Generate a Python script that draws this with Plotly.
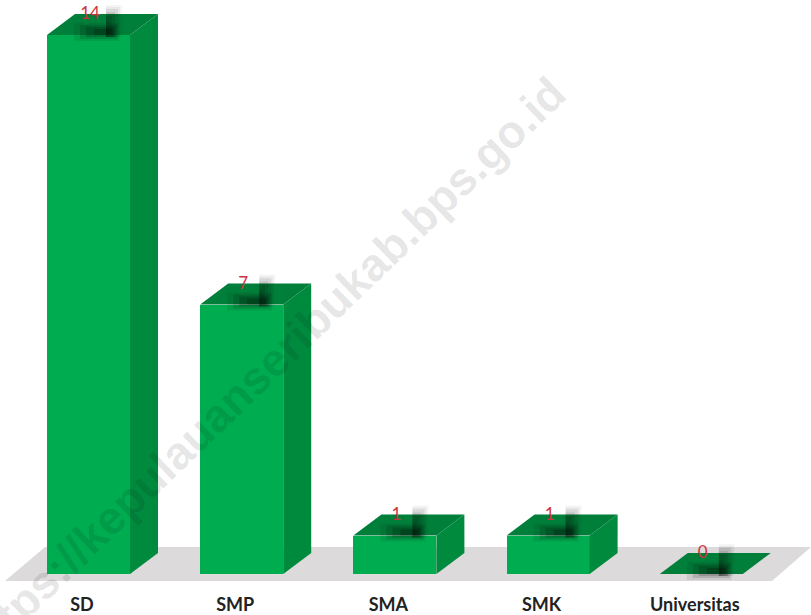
import plotly.graph_objects as go

categories = ["SD", "SMP", "SMA", "SMK", "Universitas"]
values = [14, 7, 1, 1, 0]

W, H = 811, 615
M_B = 23
PITCH = 153.2
UNIT = 38.5
X0_PX = 88.5
BASE_PX = 574
BAR_PX = 83
DX_PX, DY_PX = 28, 21

bw = BAR_PX / PITCH
dx = DX_PX / PITCH
dy = DY_PX / UNIT
xr = [-X0_PX / PITCH, (W - X0_PX) / PITCH]
yr = [-(H - M_B - BASE_PX) / UNIT, BASE_PX / UNIT]


def px(x):
    return (x - X0_PX) / PITCH


def py(y):
    return (BASE_PX - y) / UNIT


def smudge(fig, x0, x1, y0, y1, alpha):
    fig.add_trace(go.Scatter(x=[x0, x1, x1, x0, x0], y=[y0, y0, y1, y1, y0], mode="lines", fill="toself",
                             fillcolor=f"rgba(0,0,0,{alpha})", line=dict(width=0), hoverinfo="skip"))


fig = go.Figure()

fig.add_trace(go.Bar(x=list(range(5)), y=values, width=bw, marker=dict(color="#00ac50", line=dict(width=0)),
                     hoverinfo="skip"))

for i, v in enumerate(values):
    l, r = i - bw / 2, i + bw / 2
    if v > 0:
        fig.add_trace(go.Scatter(x=[r, r + dx, r + dx, r, r], y=[0, dy, v + dy, v, 0], mode="lines", fill="toself",
                                 fillcolor="#008a3e", line=dict(width=0), hoverinfo="skip"))
    fig.add_trace(go.Scatter(x=[l, l + dx, r + dx, r, l], y=[v, v + dy, v + dy, v, v], mode="lines", fill="toself",
                             fillcolor="#007f3a", line=dict(width=0), hoverinfo="skip"))
    # soft shadow behind each value label: an upright strip and a low band
    s = i + 17.5 / PITCH
    for k, top, a in zip([16, 14, 12, 9, 6, 3], [30, 28, 26, 23, 19, 14],
                         [0.04, 0.05, 0.07, 0.09, 0.10, 0.10]):
        smudge(fig, s, s + k / PITCH, v - 2 / UNIT, v + top / UNIT, a)
    for h, left, a in zip([9, 7, 5, 3], [-32, -26, -20, -12], [0.08, 0.12, 0.16, 0.20]):
        smudge(fig, s + left / PITCH, s + (h + 4) / PITCH, v - (h - 3) / UNIT, v + (h + 3) / UNIT, a)

fig.add_trace(go.Scatter(x=[i + 1.5 / PITCH for i in range(5)], y=[v + 20 / UNIT for v in values], mode="text",
                         text=[str(v) for v in values], textposition="middle center",
                         textfont=dict(family="Lato", size=17, color="#cc343c"), hoverinfo="skip"))

fig.add_shape(type="path", layer="below", xref="x", yref="y", line=dict(width=0), fillcolor="#dcdada",
              path=f"M {px(5)} {py(581)} L {px(45)} {py(547)} L {px(811)} {py(547)} L {px(772)} {py(581)} Z")

fig.add_annotation(text="<b>https://kepulauanseribukab.bps.go.id</b>", xref="paper", yref="paper",
                   x=264 / W, y=(H - M_B - 369) / (H - M_B), showarrow=True, ax=0, ay=0, arrowwidth=0.1,
                   arrowcolor="rgba(0,0,0,0)", textangle=-44,
                   font=dict(family="Liberation Sans", size=46, color="rgba(0,0,0,0.11)"))

fig.update_layout(width=W, height=H, margin=dict(l=0, r=0, t=0, b=M_B), showlegend=False,
                  paper_bgcolor="white", plot_bgcolor="white", bargap=0)
fig.update_xaxes(range=xr, tickvals=[i - 6.5 / PITCH for i in range(5)], ticktext=[f"<b>{c}</b>" for c in categories],
                 showgrid=False, zeroline=False, showline=False, ticks="",
                 tickfont=dict(family="Lato", size=18, color="#222222"))
fig.update_yaxes(range=yr, visible=False, showgrid=False, zeroline=False)
fig.write_html("out.html", config=dict(displayModeBar=False), post_script="document.body.style.margin='0';")
